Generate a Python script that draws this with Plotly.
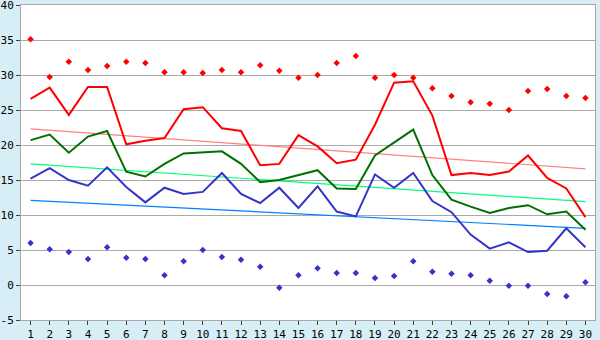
import plotly.graph_objects as go

days = list(range(1, 31))

# daily maximum, mean and minimum temperature (°C)
t_max = [26.6, 28.2, 24.3, 28.3, 28.3, 20.1, 20.6, 21.0, 25.1, 25.4,
         22.4, 22.0, 17.1, 17.3, 21.4, 19.8, 17.4, 17.9, 22.9, 28.9,
         29.1, 24.2, 15.7, 16.0, 15.7, 16.2, 18.5, 15.3, 13.8, 9.7]
t_mean = [20.7, 21.5, 18.9, 21.2, 22.0, 16.2, 15.5, 17.3, 18.8, 19.0,
          19.1, 17.3, 14.7, 15.0, 15.7, 16.4, 13.8, 13.7, 18.5, 20.3,
          22.2, 15.7, 12.2, 11.2, 10.3, 11.0, 11.4, 10.1, 10.5, 7.9]
t_min = [15.2, 16.7, 15.0, 14.2, 16.8, 14.0, 11.8, 13.9, 13.0, 13.3,
         16.0, 13.0, 11.7, 13.9, 11.0, 14.1, 10.5, 9.8, 15.8, 13.9,
         16.0, 12.0, 10.4, 7.2, 5.2, 6.1, 4.7, 4.9, 8.1, 5.4]

# record highs and lows for each day
rec_max = [35.1, 29.7, 31.9, 30.7, 31.3, 31.9, 31.7, 30.4, 30.4, 30.3,
           30.7, 30.4, 31.4, 30.6, 29.6, 30.0, 31.7, 32.7, 29.6, 30.0,
           29.6, 28.1, 27.0, 26.1, 25.9, 25.0, 27.7, 28.0, 27.0, 26.7]
rec_min = [6.0, 5.1, 4.7, 3.7, 5.4, 3.9, 3.7, 1.4, 3.4, 5.0,
           4.0, 3.6, 2.6, -0.4, 1.4, 2.4, 1.7, 1.7, 1.0, 1.3,
           3.4, 1.9, 1.6, 1.4, 0.6, -0.1, -0.1, -1.3, -1.6, 0.4]

# normal (long-term) values at the first and last day of the month
trend_days = [1, 30]
norm_max = [22.3, 16.6]
norm_mean = [17.3, 11.9]
norm_min = [12.1, 8.1]

y_ticks = [-5, 0, 5, 10, 15, 20, 25, 30, 35, 40]

fig = go.Figure()

for vals, col in [(norm_max, "#FF8080"), (norm_mean, "#00FF80"), (norm_min, "#0080FF")]:
    fig.add_trace(go.Scatter(x=trend_days, y=vals, mode="lines",
                             line=dict(color=col, width=1.2)))

for vals, col in [(t_min, "#3434C8"), (t_mean, "#007000"), (t_max, "#FF0000")]:
    fig.add_trace(go.Scatter(x=days, y=vals, mode="lines",
                             line=dict(color=col, width=2)))

for vals, col in [(rec_max, "#FF0000"), (rec_min, "#3434C8")]:
    fig.add_trace(go.Scatter(x=days, y=vals, mode="markers",
                             marker=dict(color=col, size=5, symbol="diamond")))

axis_font = dict(family="DejaVu Sans Mono", size=11, color="#000000")

fig.update_layout(
    width=600, height=340,
    margin=dict(l=21, r=5, t=5, b=20),
    paper_bgcolor="#D8EEF6",
    plot_bgcolor="#FFFFFF",
    showlegend=False,
    xaxis=dict(range=[0.5, 30.5], tickvals=days, ticktext=[str(d) for d in days],
               automargin=False,
               ticks="outside", ticklen=4, tickcolor="#404040",
               showgrid=False, zeroline=False,
               showline=True, linecolor="#A8A8A8", linewidth=1, mirror=True,
               tickfont=axis_font),
    yaxis=dict(range=[-5, 40], tickvals=y_ticks, ticktext=[str(v) for v in y_ticks],
               automargin=False, ticklabeloverflow="allow",
               ticks="outside", ticklen=4, tickcolor="#404040",
               showgrid=True, gridcolor="#AAAAAA", gridwidth=1, zeroline=False,
               showline=True, linecolor="#A8A8A8", linewidth=1, mirror=True,
               tickfont=axis_font),
)

fig.write_html("out.html")
